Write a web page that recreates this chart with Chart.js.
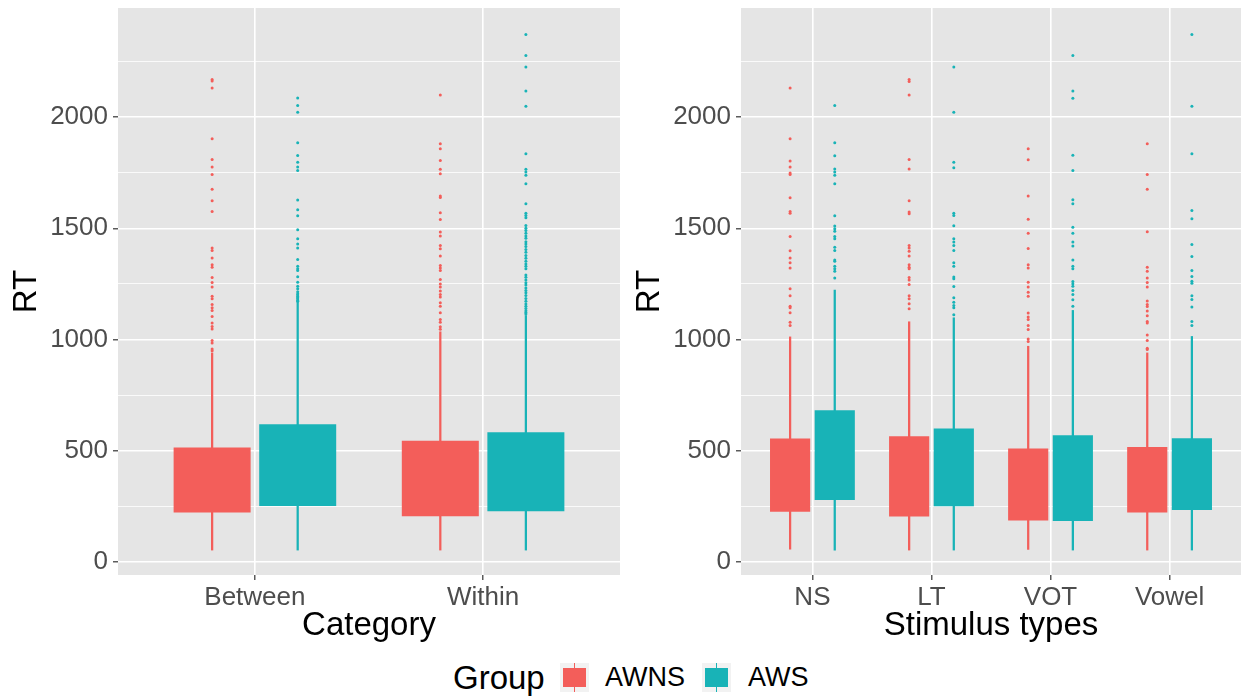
<!DOCTYPE html>
<html>
<head>
<meta charset="utf-8">
<script src="https://cdn.jsdelivr.net/npm/chart.js@4/dist/chart.umd.min.js"></script>
<style>
  body { margin: 0; background: #fff; width: 1243px; height: 700px; position: relative; overflow: hidden;
         font-family: 'Liberation Sans', Arial, sans-serif; }
  canvas { position: absolute; top: 0; }
  #left { left: 0; }
  #right { left: 625px; }
  .lg { position: absolute; top: 663px; height: 29px; line-height: 29px; color: #000; white-space: nowrap; }
  .key { position: absolute; top: 663px; width: 29px; height: 29px; background: #F2F2F2; }
  .key .wh { position: absolute; left: 13.5px; top: 0; width: 1.6px; height: 29px; }
  .key .bx { position: absolute; left: 3px; top: 5px; width: 23px; height: 19px; }
</style>
</head>
<body>
<canvas id="left" width="625" height="650"></canvas>
<canvas id="right" width="618" height="650"></canvas>

<div class="lg" style="left:453px; font-size:33px;">Group</div>
<div class="key" style="left:560px;"><div class="wh" style="background:#F35E5A"></div><div class="bx" style="background:#F35E5A"></div></div>
<div class="lg" style="left:605px; font-size:27px;">AWNS</div>
<div class="key" style="left:702px;"><div class="wh" style="background:#18B3B7"></div><div class="bx" style="background:#18B3B7"></div></div>
<div class="lg" style="left:748px; font-size:27px;">AWS</div>

<script>
// ---------- data ----------
const GROUPS = ['AWNS', 'AWS'];
const Y_TICKS = [0, 500, 1000, 1500, 2000];
const Y_GRID = [0, 250, 500, 750, 1000, 1250, 1500, 1750, 2000, 2250];

// left panel: Category
const CAT_LABELS = ['Between', 'Within'];
const CAT_AWNS_Q1 = [223, 206];
const CAT_AWNS_Q3 = [515, 545];
const CAT_AWNS_LO = [54, 54];
const CAT_AWNS_HI = [940, 1035];
const CAT_AWNS_OUT = [
  [2169, 2162, 2130, 1902, 1809, 1775, 1742, 1675, 1624, 1576, 1411, 1400, 1367, 1336, 1325, 1279, 1256,
   1236, 1195, 1183, 1158, 1143, 1131, 1104, 1074, 1059, 1048, 996, 985, 958, 950],
  [2099, 1880, 1858, 1805, 1765, 1745, 1645, 1638, 1570, 1540, 1483, 1465, 1423, 1408, 1375, 1333, 1322,
   1310, 1270, 1250, 1236, 1218, 1203, 1191, 1165, 1150, 1120, 1090, 1078, 1058, 1046]
];
const CAT_AWS_Q1 = [252, 228];
const CAT_AWS_Q3 = [619, 583];
const CAT_AWS_LO = [54, 54];
const CAT_AWS_HI = [1168, 1108];
const CAT_AWS_OUT = [
  [2085, 2052, 2022, 1884, 1827, 1797, 1775, 1760, 1627, 1583, 1556, 1493, 1453, 1430, 1411, 1360, 1330,
   1318, 1310, 1282, 1258, 1240, 1228, 1215, 1206, 1200, 1194, 1188, 1182, 1176, 1172],
  [2371, 2277, 2225, 2117, 2048, 1835, 1765, 1753, 1738, 1700, 1610, 1568, 1558, 1547, 1513, 1500, 1490,
   1478, 1465, 1455, 1440, 1430, 1418, 1405, 1392, 1378, 1365, 1352, 1340, 1330, 1318, 1290, 1280, 1268,
   1255, 1245, 1232, 1220, 1210, 1198, 1185, 1172, 1160, 1150, 1140, 1130, 1122, 1115]
];

// right panel: Stimulus types
const STIM_LABELS = ['NS', 'LT', 'VOT', 'Vowel'];
const STIM_AWNS_Q1 = [226, 205, 187, 223];
const STIM_AWNS_Q3 = [555, 565, 510, 517];
const STIM_AWNS_LO = [58, 54, 57, 54];
const STIM_AWNS_HI = [1012, 1080, 970, 940];
const STIM_AWNS_OUT = [
  [2130, 1902, 1803, 1775, 1748, 1742, 1637, 1576, 1568, 1463, 1399, 1367, 1345, 1322, 1228, 1197, 1150,
   1143, 1120, 1078, 1063],
  [2169, 2160, 2099, 1809, 1766, 1624, 1573, 1565, 1423, 1411, 1397, 1375, 1336, 1325, 1318, 1279, 1268,
   1247, 1197, 1183, 1161, 1138],
  [1857, 1808, 1645, 1541, 1478, 1409, 1336, 1322, 1258, 1236, 1213, 1195, 1119, 1101, 1090, 1063, 1045,
   1003, 991],
  [1880, 1742, 1675, 1484, 1325, 1307, 1277, 1256, 1236, 1173, 1158, 1149, 1128, 1107, 1081, 1074, 1021,
   996, 961, 955]
];
const STIM_AWS_Q1 = [279, 251, 185, 234];
const STIM_AWS_Q3 = [682, 600, 570, 556];
const STIM_AWS_LO = [54, 54, 54, 54];
const STIM_AWS_HI = [1222, 1098, 1131, 1014];
const STIM_AWS_OUT = [
  [2052, 1884, 1826, 1767, 1753, 1738, 1700, 1556, 1510, 1498, 1487, 1463, 1453, 1415, 1400, 1358, 1352,
   1330, 1318, 1307, 1277],
  [2225, 2022, 1797, 1772, 1568, 1558, 1511, 1453, 1438, 1423, 1400, 1345, 1330, 1281, 1273, 1239, 1188,
   1168, 1153, 1143, 1111],
  [2277, 2117, 2084, 1828, 1760, 1628, 1610, 1505, 1478, 1439, 1421, 1358, 1330, 1318, 1261, 1251, 1240,
   1221, 1203, 1179, 1150],
  [2371, 2048, 1835, 1580, 1543, 1427, 1373, 1310, 1283, 1262, 1253, 1197, 1180, 1146, 1081, 1063]
];

// ---------- style ----------
const COLORS = ['#F35E5A', '#18B3B7'];
const DODGE = 0.1875;
const FONT = "'Liberation Sans', Arial, sans-serif";
Chart.defaults.font.family = FONT;

const panelBg = {
  id: 'panelBg',
  beforeDraw(chart) {
    const { ctx, chartArea: a } = chart;
    ctx.save();
    ctx.fillStyle = '#E5E5E5';
    ctx.fillRect(a.left, a.top, a.right - a.left, a.bottom - a.top);
    ctx.restore();
  }
};

function buildDatasets(labels, series) {
  const boxes = [], whiskers = [], points = [];
  series.forEach((s, g) => {
    const off = g === 0 ? -DODGE : DODGE;
    boxes.push({
      type: 'bar', label: GROUPS[g], order: 0,
      data: labels.map((_, i) => ({ x: i + 1 + off, y: [s.q1[i], s.q3[i]] })),
      backgroundColor: COLORS[g], borderWidth: 0, grouped: false,
      categoryPercentage: 1, barPercentage: 0.9
    });
    whiskers.push({
      type: 'bar', label: GROUPS[g] + ' whisker', order: 2,
      data: labels.map((_, i) => ({ x: i + 1 + off, y: [s.lo[i], s.hi[i]] })),
      backgroundColor: COLORS[g], borderWidth: 0, grouped: false, barThickness: 1.6
    });
    points.push({
      type: 'scatter', label: GROUPS[g] + ' outliers', order: 1,
      data: s.out.flatMap((vals, i) => vals.map(v => ({ x: i + 1 + off, y: v }))),
      backgroundColor: COLORS[g], borderWidth: 0, pointRadius: 1.5
    });
  });
  return [...boxes, ...points, ...whiskers];
}

function makePanel(id, labels, series, xTitle, yWidth, padRight, yTitlePad) {
  new Chart(document.getElementById(id), {
    type: 'bar',
    data: { datasets: buildDatasets(labels, series) },
    options: {
      responsive: false,
      animation: false,
      events: [],
      layout: { autoPadding: false, padding: { top: 8, right: padRight, bottom: 4, left: 0 } },
      plugins: { legend: { display: false }, tooltip: { enabled: false } },
      scales: {
        x: {
          type: 'linear', min: 0.4, max: labels.length + 0.6, offset: false,
          afterBuildTicks: a => { a.ticks = labels.map((_, i) => ({ value: i + 1 })); },
          afterFit: a => { a.height = 71; a.paddingLeft = 0; a.paddingRight = 0; },
          border: { display: false },
          grid: { offset: false, color: '#FFFFFF', lineWidth: 1.6, tickLength: 5,
                  tickColor: '#333333', tickWidth: 1.2 },
          ticks: { autoSkip: false, maxRotation: 0, padding: 2, color: '#4D4D4D',
                   font: { size: 26 }, callback: v => labels[v - 1] ?? '' },
          title: { display: true, text: xTitle, color: '#000000', font: { size: 33 },
                   padding: { top: 0, bottom: 0 } }
        },
        y: {
          type: 'linear', min: -58, max: 2490,
          afterBuildTicks: a => { a.ticks = Y_GRID.map(v => ({ value: v })); },
          afterFit: a => { a.width = yWidth; a.paddingTop = 0; a.paddingBottom = 0; },
          border: { display: false },
          grid: {
            color: '#FFFFFF',
            lineWidth: c => Y_TICKS.includes(c.tick.value) ? 1.6 : 0.8,
            tickLength: 5,
            tickColor: c => Y_TICKS.includes(c.tick.value) ? '#333333' : 'rgba(0,0,0,0)',
            tickWidth: 1.2
          },
          ticks: { padding: 5, color: '#4D4D4D', font: { size: 26 },
                   callback: v => Y_TICKS.includes(v) ? String(v) : '' },
          title: { display: true, text: 'RT', color: '#000000', font: { size: 33 },
                   padding: { top: yTitlePad, bottom: 0 } }
        }
      }
    },
    plugins: [panelBg]
  });
}

makePanel('left', CAT_LABELS, [
  { q1: CAT_AWNS_Q1, q3: CAT_AWNS_Q3, lo: CAT_AWNS_LO, hi: CAT_AWNS_HI, out: CAT_AWNS_OUT },
  { q1: CAT_AWS_Q1, q3: CAT_AWS_Q3, lo: CAT_AWS_LO, hi: CAT_AWS_HI, out: CAT_AWS_OUT }
], 'Category', 118, 5, 7);

makePanel('right', STIM_LABELS, [
  { q1: STIM_AWNS_Q1, q3: STIM_AWNS_Q3, lo: STIM_AWNS_LO, hi: STIM_AWNS_HI, out: STIM_AWNS_OUT },
  { q1: STIM_AWS_Q1, q3: STIM_AWS_Q3, lo: STIM_AWS_LO, hi: STIM_AWS_HI, out: STIM_AWS_OUT }
], 'Stimulus types', 116, 2, 5);
</script>
</body>
</html>
